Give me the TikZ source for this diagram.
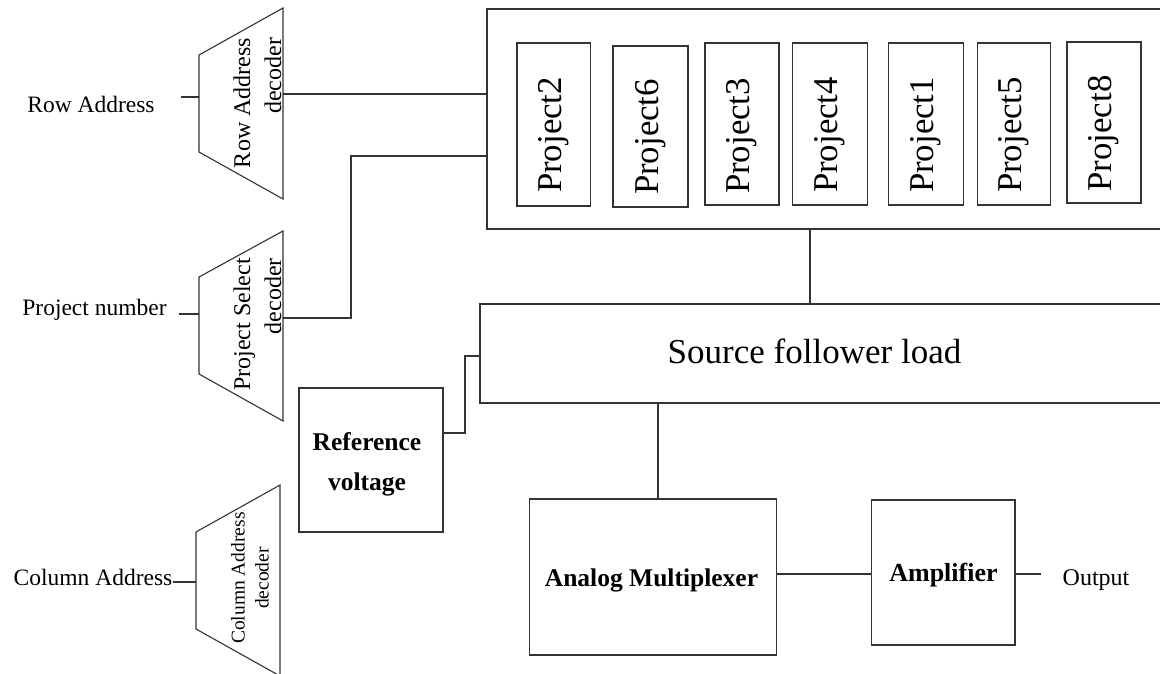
\documentclass[tikz,border=0pt]{standalone}
\usepackage{fontspec}
\setmainfont{Liberation Serif}
\tikzset{
  ln/.style={draw=black!80, line width=1.1pt},
  blk/.style={ln, rectangle, inner sep=0pt, outer sep=0pt},
  ptext/.style={rotate=90, inner sep=0pt, font=\fontsize{34.8}{40}\selectfont},
  lbl/.style={anchor=base, inner sep=0pt, font=\fontsize{23.5}{28}\selectfont},
  dectext/.style={rotate=90, inner sep=0pt, align=right, font=\fontsize{24}{31}\selectfont},
  boldtext/.style={inner sep=0pt, font=\bfseries\fontsize{25.5}{40}\selectfont}
}
\begin{document}
\begin{tikzpicture}[x=1pt,y=-1pt]
\useasboundingbox (0,0) rectangle (1160,673);
\fill[white] (0,0) rectangle (1160,673);

% left labels
\node[lbl] (rowlbl) at (91,112) {Row Address};
\node[lbl] (projlbl) at (94.5,315) {Project number};
\node[lbl] (collbl) at (93,585) {Column Address};

% decoders (trapezoids)
\draw[ln] (199,55) -- (283,8) -- (283,199) -- (199,152) -- cycle;
\draw[ln] (199,277) -- (283,231) -- (283,421) -- (199,374) -- cycle;
\draw[ln] (196,532) -- (280,485) -- (280,676) -- (196,629) -- cycle;
\node[dectext] (rowdec) at (257.5,103) {Row Address\\decoder};
\node[dectext] (projdec) at (257.5,324.5) {Project Select\\decoder};
\node[dectext, align=center, font=\fontsize{19.5}{24}\selectfont] (coldec) at (250,578) {Column Address\\decoder};

\coordinate (rowdecIn) at (199,97);
\coordinate (rowdecOut) at (283,94);
\coordinate (projdecIn) at (199,314);
\coordinate (projdecOut) at (283,318);
\coordinate (coldecIn) at (196,582);
\coordinate (rowStub) at (181,97);
\coordinate (projStub) at (179,314);
\coordinate (colStub) at (173,582);

% big array box (open to the right)
\node[blk, minimum width=683, minimum height=220] (big) at (828.5,119) {};
% project boxes
\node[blk, minimum width=73.6, minimum height=163] (p2) at (553.8,124.5) {};
\node[blk, minimum width=75, minimum height=161] (p6) at (650.5,126.5) {};
\node[blk, minimum width=74, minimum height=162] (p3) at (742,124) {};
\node[blk, minimum width=74.5, minimum height=162] (p4) at (830,124) {};
\node[blk, minimum width=74.5, minimum height=162] (p1) at (926,124) {};
\node[blk, minimum width=73.6, minimum height=162] (p5) at (1014,124) {};
\node[blk, minimum width=74, minimum height=161] (p8) at (1104,122.5) {};
\node[ptext] (t2) at (553.8,135) {Project2};
\node[ptext] (t6) at (650.5,137) {Project6};
\node[ptext] (t3) at (742,136) {Project3};
\node[ptext] (t4) at (830,135) {Project4};
\node[ptext] (t1) at (926,135) {Project1};
\node[ptext] (t5) at (1014,135) {Project5};
\node[ptext] (t8) at (1104,133.5) {Project8};

% source follower load (open to the right)
\node[blk, minimum width=690, minimum height=99] (sf) at (825,353.5) {};
\node[inner sep=0pt, anchor=base, font=\fontsize{35}{40}\selectfont] (sftext) at (814.5,363) {Source follower load};

% reference voltage
\node[blk, minimum width=144, minimum height=144] (ref) at (371,460) {};
\node[boldtext, align=center] (reftext) at (367,464) {Reference\\voltage};

% analog multiplexer and amplifier
\node[blk, minimum width=247, minimum height=156] (mux) at (653,577) {};
\node[boldtext, anchor=base] (muxtext) at (651.5,586.7) {Analog Multiplexer};
\node[blk, minimum width=143.4, minimum height=145] (amp) at (943.3,572.5) {};
\node[boldtext, anchor=base, font=\bfseries\fontsize{26}{30}\selectfont] (amptext) at (943.5,581.7) {Amplifier};
\node[lbl, font=\fontsize{24}{28}\selectfont] (out) at (1096,585) {Output};

% connectors
\draw[ln] (rowStub) -- (rowdecIn);
\draw[ln] (projStub) -- (projdecIn);
\draw[ln] (colStub) -- (coldecIn);
\draw[ln] (rowdecOut) -- (rowdecOut -| big.west);
\coordinate (psbend) at (351,156);
\draw[ln] (projdecOut) -| (psbend) -- (psbend -| big.west);
\coordinate (refOut) at (443,433);
\coordinate (refbend) at (465,356);
\draw[ln] (refOut) -| (refbend) -- (refbend -| sf.west);
\coordinate (bs) at (810,229);
\draw[ln] (bs) -- (bs |- sf.north);
\coordinate (sfm) at (658,403);
\draw[ln] (sfm) -- (sfm |- mux.north);
\coordinate (ma) at (0,574);
\draw[ln] (mux.east |- ma) -- (amp.west |- ma);
\coordinate (outEnd) at (1041,574);
\draw[ln] (amp.east |- ma) -- (outEnd);
\end{tikzpicture}
\end{document}
